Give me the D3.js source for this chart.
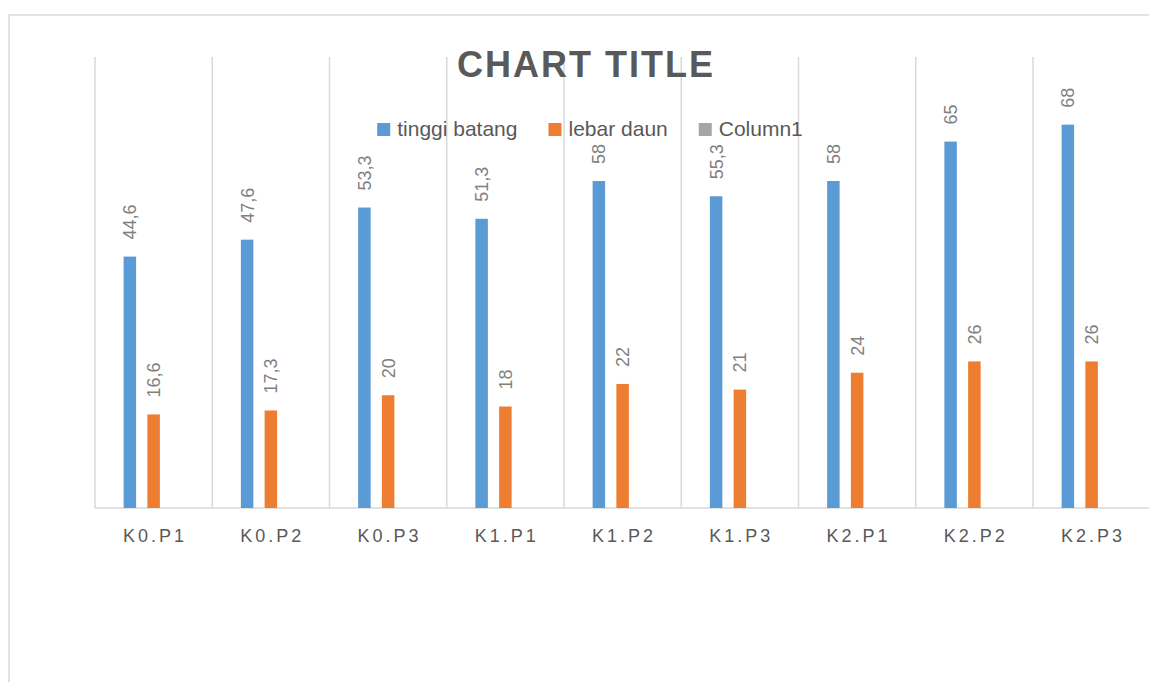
<!DOCTYPE html>
<html>
<head>
<meta charset="utf-8">
<script src="https://cdn.jsdelivr.net/npm/d3@7"></script>
<style>
  body { margin: 0; background: #fff; }
  svg { display: block; font-family: "Liberation Sans", Arial, sans-serif; }
</style>
</head>
<body>
<div id="chart"></div>
<script>
// chart data
const categories = ["K0.P1", "K0.P2", "K0.P3", "K1.P1", "K1.P2", "K1.P3", "K2.P1", "K2.P2", "K2.P3"];
const seriesNames = ["tinggi batang", "lebar daun", "Column1"];
const tinggiBatang = [44.6, 47.6, 53.3, 51.3, 58, 55.3, 58, 65, 68];
const lebarDaun = [16.6, 17.3, 20, 18, 22, 21, 24, 26, 26];
const column1 = [null, null, null, null, null, null, null, null, null];
const seriesColors = ["#5b9bd5", "#ed7d31", "#a5a5a5"];
const yMax = 80;

const width = 1149;
const height = 682;

const svg = d3
  .select("#chart")
  .append("svg")
  .attr("width", width)
  .attr("height", height);

// outer chart border (runs off the right/bottom of the window)
svg
  .append("rect")
  .attr("x", 9)
  .attr("y", 15)
  .attr("width", 1250)
  .attr("height", 800)
  .style("fill", "none")
  .style("stroke", "#d9d9d9")
  .style("stroke-width", 1.5);

const plot = { left: 95, right: 1150.25, top: 57, bottom: 508 };

const x = d3
  .scaleBand()
  .domain(categories)
  .range([plot.left, plot.right])
  .paddingInner(0)
  .paddingOuter(0);

const xSeries = d3
  .scaleBand()
  .domain(seriesNames)
  .range([0, x.bandwidth()])
  .paddingInner(0.474)
  .paddingOuter(1.205);

const y = d3.scaleLinear().domain([0, yMax]).range([plot.bottom, plot.top]);

// vertical gridlines between categories
const gridX = categories.map((c) => x(c)).concat([plot.right]);
svg
  .append("g")
  .selectAll("line")
  .data(gridX)
  .join("line")
  .attr("x1", (d) => d)
  .attr("x2", (d) => d)
  .attr("y1", y(yMax))
  .attr("y2", y(0))
  .style("stroke", "#d9d9d9")
  .style("stroke-width", 1.5);

// baseline
svg
  .append("line")
  .attr("x1", plot.left)
  .attr("x2", plot.right)
  .attr("y1", y(0))
  .attr("y2", y(0))
  .style("stroke", "#d9d9d9")
  .style("stroke-width", 1.5);

const seriesValues = [tinggiBatang, lebarDaun, column1];

const rows = [];
seriesValues.forEach((vals, s) => {
  vals.forEach((v, i) => {
    if (v !== null) rows.push({ cat: categories[i], series: seriesNames[s], s: s, value: v });
  });
});

// bars
svg
  .append("g")
  .selectAll("rect")
  .data(rows)
  .join("rect")
  .attr("x", (d) => x(d.cat) + xSeries(d.series))
  .attr("y", (d) => y(d.value))
  .attr("width", xSeries.bandwidth())
  .attr("height", (d) => y(0) - y(d.value))
  .style("fill", (d) => seriesColors[d.s]);

// rotated data labels
svg
  .append("g")
  .selectAll("text")
  .data(rows)
  .join("text")
  .attr("transform", (d) => {
    const cx = x(d.cat) + xSeries(d.series) + xSeries.bandwidth() / 2 + 6.5;
    return `translate(${cx},${y(d.value) - 17}) rotate(-90)`;
  })
  .attr("text-anchor", "start")
  .style("font-size", "18px")
  .style("fill", "#7f7f7f")
  .text((d) => String(d.value).replace(".", ","));

// category labels
svg
  .append("g")
  .selectAll("text")
  .data(categories)
  .join("text")
  .attr("x", (d) => x(d) + x.bandwidth() / 2 + 1.5)
  .attr("y", 542)
  .attr("text-anchor", "middle")
  .style("font-size", "18px")
  .style("letter-spacing", "3px")
  .style("fill", "#595959")
  .text((d) => d);

// title
svg
  .append("text")
  .attr("x", 586)
  .attr("y", 77)
  .attr("text-anchor", "middle")
  .style("font-size", "36px")
  .style("font-weight", "bold")
  .style("letter-spacing", "2px")
  .style("fill", "#595959")
  .text("CHART TITLE");

// legend
const legend = svg.append("g");
let lx = 0;
seriesNames.forEach((name, i) => {
  const item = legend.append("g").attr("transform", `translate(${lx},0)`);
  item
    .append("rect")
    .attr("x", 0)
    .attr("y", 123)
    .attr("width", 13)
    .attr("height", 13)
    .style("fill", seriesColors[i]);
  const t = item
    .append("text")
    .attr("x", 20)
    .attr("y", 136)
    .style("font-size", "21px")
    .style("fill", "#595959")
    .text(name);
  lx += 20 + t.node().getComputedTextLength() + 31;
});
const legendWidth = lx - 31;
legend.attr("transform", `translate(${590 - legendWidth / 2},0)`);
</script>
</body>
</html>
